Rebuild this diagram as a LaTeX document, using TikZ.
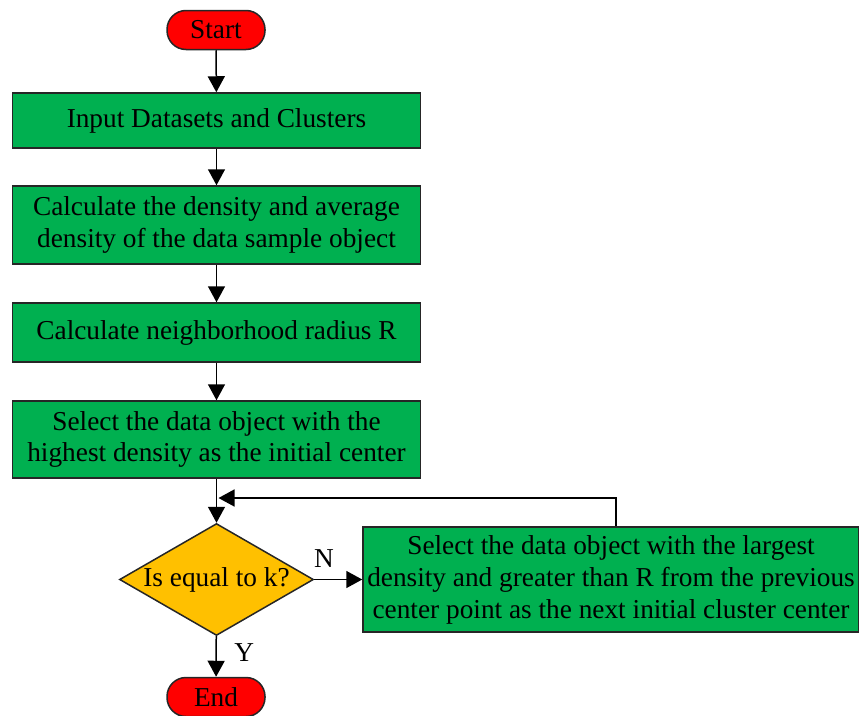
\documentclass[tikz,border=0pt]{standalone}
\usepackage{fontspec}
\setmainfont{Liberation Serif}
\usetikzlibrary{shapes.geometric,arrows.meta}
\definecolor{boxgreen}{RGB}{0,176,80}
\definecolor{termred}{RGB}{255,0,0}
\definecolor{decyellow}{RGB}{255,192,0}
\begin{document}
\begin{tikzpicture}[x=1pt,y=-1pt,
  every node/.style={font=\fontsize{27.3}{31.5}\selectfont},
  procbox/.style={draw=black!85,line width=1.5pt,fill=boxgreen,minimum width=408pt,align=center,inner sep=0pt},
  term/.style={draw=black!85,line width=1.5pt,fill=termred,rounded corners=19pt,minimum width=98pt,minimum height=39pt,inner sep=0pt},
  decision/.style={draw=black!85,line width=1.5pt,fill=decyellow,diamond,aspect=1.73,minimum width=194pt,minimum height=112pt,inner sep=0pt},
  conn/.style={line width=1.5pt,-{Triangle[width=17pt,length=16pt]}}
]
\useasboundingbox (0,0) rectangle (859,715);
\node[term] (start) at (216,30) {Start};
\node[procbox,minimum height=55pt] (b1) at (216.5,120.5) {Input Datasets and Clusters};
\node[procbox,minimum height=78pt] (b2) at (216.5,225) {Calculate the density and average\\density of the data sample object};
\node[procbox,minimum height=59pt] (b3) at (216.5,332.5) {Calculate neighborhood radius R};
\node[procbox,minimum height=77pt] (b4) at (216.5,439.5) {Select the data object with the\\highest density as the initial center};
\node[decision] (d) at (216.5,579.5) {Is equal to k?};
\node[procbox,minimum width=496pt,minimum height=105pt,font=\fontsize{27.3}{32}\selectfont] (b5) at (611,579.5) {Select the data object with the largest\\density and greater than R from the previous\\center point as the next initial cluster center};
\node[term] (end) at (216,697) {End};
\coordinate (lp) at (616,498);
\coordinate (lj) at (216.5,498);
\draw[conn] (start) -- (b1);
\draw[conn] (b1) -- (b2);
\draw[conn] (b2) -- (b3);
\draw[conn] (b3) -- (b4);
\draw[conn] (b4) -- (d);
\draw[conn] (d) -- node[above,pos=0.2,yshift=8pt] (nlab) {N} (b5);
\draw[conn] (d) -- node[right,pos=0.4,xshift=14pt] (ylab) {Y} (end);
\draw[conn] (b5.north -| lp) -- (lp) -- ([xshift=2pt]lj);
\end{tikzpicture}
\end{document}
